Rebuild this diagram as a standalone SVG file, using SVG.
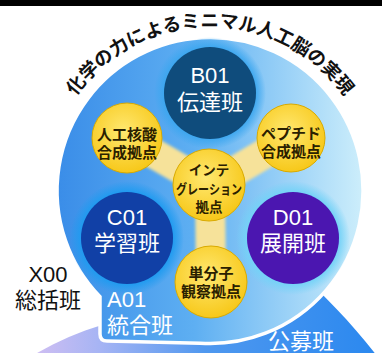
<svg xmlns="http://www.w3.org/2000/svg" width="382" height="353" viewBox="0 0 382 353">
<style>
.jp{font-family:"Liberation Sans","Noto Sans CJK JP",sans-serif;}
.w{fill:#ffffff;}
.k{fill:#111111;}
.yt{fill:#2a2000;font-size:15px;font-weight:600;}
.big{font-size:22px;}
.mid{text-anchor:middle;}
.ycirc{fill:url(#gYellow);stroke:#d9aa00;stroke-width:1;}
</style>
<defs>
<linearGradient id="gMain" x1="57" y1="0" x2="363" y2="0" gradientUnits="userSpaceOnUse">
<stop offset="0" stop-color="#3a8de8"/>
<stop offset="0.45" stop-color="#5eaff2"/>
<stop offset="1" stop-color="#cdeefb"/>
</linearGradient>
<linearGradient id="gKoubo" x1="30" y1="0" x2="380" y2="0" gradientUnits="userSpaceOnUse">
<stop offset="0" stop-color="#d2bff2"/>
<stop offset="0.2" stop-color="#a6b4f4"/>
<stop offset="0.5" stop-color="#4f98ef"/>
<stop offset="1" stop-color="#2a88ef"/>
</linearGradient>
<radialGradient id="gYellow" cx="0.45" cy="0.4" r="0.6">
<stop offset="0" stop-color="#ffe870"/>
<stop offset="1" stop-color="#f7c81a"/>
</radialGradient>
<radialGradient id="haloB">
<stop offset="0.8" stop-color="#3aa6ef" stop-opacity="1"/>
<stop offset="1" stop-color="#3aa6ef" stop-opacity="0"/>
</radialGradient>
<radialGradient id="haloC">
<stop offset="0.8" stop-color="#1f9bf0" stop-opacity="1"/>
<stop offset="1" stop-color="#1f9bf0" stop-opacity="0"/>
</radialGradient>
<radialGradient id="haloD">
<stop offset="0.8" stop-color="#74d2f7" stop-opacity="1"/>
<stop offset="1" stop-color="#74d2f7" stop-opacity="0"/>
</radialGradient>
<filter id="soft" x="-20%" y="-20%" width="140%" height="140%">
<feGaussianBlur stdDeviation="1.8"/>
</filter>
<path id="arcTitle" d="M67.1,109.5 A165,165 0 0 1 352.9,109.5"/>
</defs>

<rect x="0" y="0" width="382" height="6" fill="#000000"/>

<g id="koubo">
<path d="M25,360 C50,345 75,333 102,325 L102,300 L300,272 C326,298 354,325 380,360 Z" fill="url(#gKoubo)"/>
<text class="jp w big mid" x="301" y="349">公募班</text>
</g>

<g id="a01">
<path d="M100,296.8 L100,334 Q100,341 107,341 L200,343.2 A153,153 0 1 0 100,296.8 Z" fill="url(#gMain)" stroke="#ffffff" stroke-width="3.5"/>
<text class="jp w big" x="107" y="307">A01</text>
<text class="jp w big" x="107" y="333">統合班</text>
</g>

<g id="halos">
<circle cx="210" cy="93" r="56" fill="url(#haloB)"/>
<circle cx="127" cy="238" r="57" fill="url(#haloC)"/>
<circle cx="293" cy="238" r="57" fill="url(#haloD)"/>
</g>

<g id="connectors" stroke="#f6e29a" stroke-width="30" stroke-linecap="round" fill="none" filter="url(#soft)">
<line x1="210" y1="186" x2="127" y2="138"/>
<line x1="210" y1="186" x2="291" y2="138"/>
<line x1="210" y1="186" x2="211" y2="282"/>
</g>

<g id="b01">
<circle cx="210" cy="93" r="46" fill="#0f4c7c"/>
<text class="jp w big mid" x="210" y="83">B01</text>
<text class="jp w big mid" x="210" y="110">伝達班</text>
</g>

<g id="c01">
<circle cx="127" cy="238" r="46" fill="#1140a6"/>
<text class="jp w big mid" x="127" y="225">C01</text>
<text class="jp w big mid" x="127" y="251">学習班</text>
</g>

<g id="d01">
<circle cx="293" cy="238" r="46" fill="#4b16b0"/>
<text class="jp w big mid" x="293" y="225">D01</text>
<text class="jp w big mid" x="293" y="251">展開班</text>
</g>

<g id="kakusan">
<circle class="ycirc" cx="127" cy="138" r="35"/>
<text class="jp yt mid" x="127" y="140">人工核酸</text>
<text class="jp yt mid" x="127" y="158">合成拠点</text>
</g>

<g id="peptide">
<circle class="ycirc" cx="291" cy="138" r="34"/>
<text class="jp yt mid" x="291" y="139">ペプチド</text>
<text class="jp yt mid" x="291" y="157">合成拠点</text>
</g>

<g id="integration">
<circle class="ycirc" cx="209" cy="185" r="36"/>
<text class="jp yt mid" x="209" y="175" style="font-size:13.5px">インテ</text>
<text class="jp yt mid" x="209" y="194" style="font-size:13.5px" textLength="66" lengthAdjust="spacingAndGlyphs">グレーション</text>
<text class="jp yt mid" x="209" y="212" style="font-size:13.5px">拠点</text>
</g>

<g id="tanbunshi">
<circle class="ycirc" cx="211" cy="282" r="36"/>
<text class="jp yt mid" x="211" y="279">単分子</text>
<text class="jp yt mid" x="211" y="297">観察拠点</text>
</g>

<g id="x00">
<text class="jp k big mid" x="48" y="282">X00</text>
<text class="jp k big mid" x="48" y="308">総括班</text>
</g>

<g id="title">
<text class="jp k" style="font-size:18.5px;font-weight:600"><textPath href="#arcTitle" startOffset="50%" text-anchor="middle">化学の力によるミニマル人工脳の実現</textPath></text>
</g>
</svg>
